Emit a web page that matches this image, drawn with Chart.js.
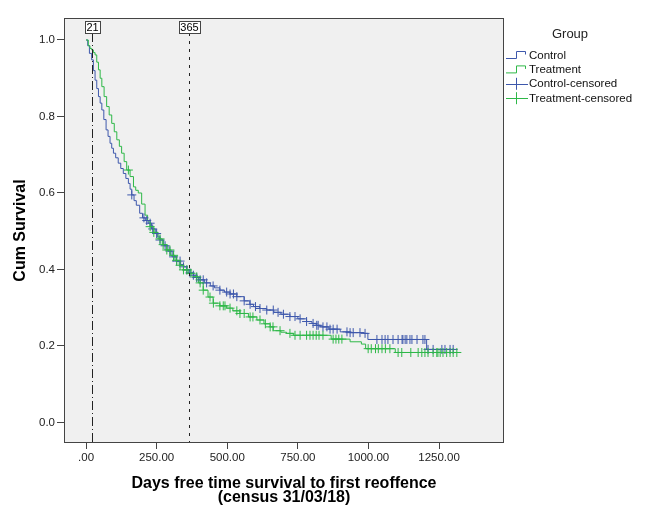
<!DOCTYPE html>
<html>
<head>
<meta charset="utf-8">
<script src="https://cdn.jsdelivr.net/npm/chart.js@4.4.1/dist/chart.umd.min.js"></script>
<style>
  html, body { margin: 0; padding: 0; background: #fff; }
  #wrap { width: 647px; height: 506px; }
</style>
</head>
<body>
<div id="wrap"><canvas id="km" width="647" height="506"></canvas></div>
<script>
// Kaplan-Meier estimates (days, cumulative survival)
let ctrlDays = [0, 6, 12, 20, 26, 32, 38, 44, 50, 56, 63, 71, 78, 85, 91, 97, 105, 114, 123, 132, 141, 150, 156, 162, 170, 178, 190, 200, 210, 220, 232, 245, 254, 262, 275, 290, 305, 320, 335, 345, 357, 368, 380, 392, 404, 420, 440, 455, 474, 490, 510, 534, 560, 580, 593, 615, 640, 665, 690, 722, 750, 781, 800, 815, 829, 860, 900, 935, 983, 998, 1206, 1300];
let ctrlSurv = [1.000, 0.985, 0.965, 0.948, 0.920, 0.895, 0.873, 0.852, 0.835, 0.817, 0.792, 0.765, 0.748, 0.730, 0.717, 0.704, 0.692, 0.678, 0.664, 0.651, 0.638, 0.625, 0.610, 0.595, 0.580, 0.568, 0.547, 0.535, 0.528, 0.521, 0.506, 0.494, 0.485, 0.477, 0.462, 0.448, 0.433, 0.422, 0.413, 0.407, 0.399, 0.391, 0.385, 0.379, 0.373, 0.365, 0.357, 0.352, 0.346, 0.341, 0.336, 0.329, 0.318, 0.309, 0.303, 0.298, 0.294, 0.288, 0.283, 0.277, 0.271, 0.264, 0.259, 0.254, 0.250, 0.244, 0.237, 0.235, 0.233, 0.217, 0.191, 0.191];

let trtDays = [0, 8, 14, 20, 26, 32, 38, 44, 50, 56, 64, 73, 82, 91, 100, 109, 118, 126, 135, 144, 156, 168, 176, 185, 197, 209, 218, 227, 240, 255, 270, 286, 300, 315, 330, 345, 362, 380, 398, 415, 432, 450, 474, 498, 520, 545, 575, 605, 630, 652, 663, 690, 710, 734, 868, 935, 975, 990, 1095, 1313];
let trtSurv = [1.000, 0.985, 0.978, 0.974, 0.967, 0.961, 0.942, 0.922, 0.900, 0.878, 0.852, 0.826, 0.804, 0.782, 0.760, 0.739, 0.722, 0.704, 0.682, 0.660, 0.643, 0.616, 0.607, 0.600, 0.571, 0.542, 0.527, 0.512, 0.497, 0.480, 0.465, 0.451, 0.437, 0.424, 0.411, 0.399, 0.390, 0.381, 0.365, 0.346, 0.328, 0.312, 0.305, 0.299, 0.292, 0.285, 0.276, 0.268, 0.258, 0.250, 0.240, 0.236, 0.233, 0.228, 0.218, 0.211, 0.205, 0.193, 0.183, 0.183];

// censored cases (days)
let ctrlCensDays = [162, 205, 215, 227, 236, 250, 262, 280, 297, 310, 321, 333, 345, 357, 368, 380, 392, 404, 415, 427, 450, 474, 498, 510, 522, 534, 560, 581, 600, 616, 640, 663, 680, 699, 722, 740, 758, 781, 804, 817, 822, 839, 853, 864, 875, 889, 924, 935, 946, 970, 988, 1030, 1048, 1059, 1069, 1087, 1105, 1119, 1122, 1130, 1136, 1147, 1154, 1172, 1193, 1200, 1211, 1229, 1260, 1271, 1289, 1300];
let trtCensDays = [150, 227, 240, 262, 273, 286, 297, 310, 321, 333, 345, 357, 372, 392, 404, 415, 439, 451, 474, 486, 492, 510, 534, 545, 560, 581, 591, 616, 635, 652, 662, 687, 722, 740, 758, 781, 793, 804, 815, 825, 839, 875, 885, 895, 906, 999, 1010, 1025, 1035, 1048, 1060, 1076, 1105, 1118, 1150, 1176, 1189, 1200, 1211, 1229, 1242, 1246, 1254, 1264, 1277, 1289, 1300, 1313];

let groups = ['Control', 'Treatment', 'Control-censored', 'Treatment-censored'];
let refDays = [21, 365];
let xTicks = [0, 250, 500, 750, 1000, 1250];
let yTicks = [0, 0.2, 0.4, 0.6, 0.8, 1.0];

let blue = '#3e58ac';
let green = '#2eb848';
let FONT = '"Liberation Sans", Arial, sans-serif';

// value of the step curve at time t (censor marks sit on the curve)
function survAt(days, surv, t){
    let s = surv[0];
    for(let i = 0; i < days.length; i++){
        if(days[i] <= t) s = surv[i];
    }
    return s;
}

let ctrlLine = ctrlDays.map((d, i) => ({x: d, y: ctrlSurv[i]}));
let trtLine = trtDays.map((d, i) => ({x: d, y: trtSurv[i]}));
let ctrlCens = ctrlCensDays.map(d => ({x: d, y: survAt(ctrlDays, ctrlSurv, d)}));
let trtCens = trtCensDays.map(d => ({x: d, y: survAt(trtDays, trtSurv, d)}));

// plot frame, reference lines, legend and axis titles
let decor = {
    id: 'decor',
    beforeDatasetsDraw(chart){
        let {ctx, chartArea: a} = chart;
        ctx.save();
        ctx.fillStyle = '#f0f0f0';
        ctx.fillRect(a.left, a.top, a.right - a.left, a.bottom - a.top);
        ctx.restore();
    },
    afterDatasetsDraw(chart){
        let {ctx, chartArea: a, scales} = chart;
        ctx.save();

        // reference lines at 21 and 365 days
        ctx.strokeStyle = '#222';
        ctx.lineWidth = 1;
        refDays.forEach((d, i) => {
            let x = Math.round(scales.x.getPixelForValue(d)) + 0.5;
            ctx.setLineDash(i == 0 ? [9, 3, 1, 3] : [3, 5]);
            ctx.beginPath();
            ctx.moveTo(x, a.top + 15);
            ctx.lineTo(x, a.bottom);
            ctx.stroke();
        });
        ctx.setLineDash([]);

        // frame
        ctx.strokeStyle = '#444';
        ctx.strokeRect(a.left + 0.5, a.top + 0.5, a.right - a.left - 1, a.bottom - a.top - 1);

        // boxed labels for reference lines
        ctx.font = '11px ' + FONT;
        ctx.textAlign = 'center';
        ctx.textBaseline = 'middle';
        refDays.forEach(d => {
            let x = Math.round(scales.x.getPixelForValue(d)) + 0.5;
            let txt = String(d);
            let w = ctx.measureText(txt).width + 3;
            ctx.fillStyle = '#fff';
            ctx.fillRect(x - w / 2, a.top + 3, w, 12);
            ctx.strokeStyle = '#444';
            ctx.strokeRect(Math.round(x - w / 2) + 0.5, a.top + 3.5, Math.round(w), 12);
            ctx.fillStyle = '#000';
            ctx.fillText(txt, x, a.top + 10);
        });

        // legend
        ctx.fillStyle = '#222';
        ctx.font = '13px ' + FONT;
        ctx.fillText('Group', 570, 34);
        ctx.font = '11.5px ' + FONT;
        ctx.textAlign = 'left';
        let cols = [blue, green, blue, green];
        groups.forEach((g, i) => {
            let y = 55 + i * 14.4;
            ctx.strokeStyle = cols[i];
            ctx.beginPath();
            if(i < 2){
                ctx.moveTo(506, y + 3.5);
                ctx.lineTo(516.5, y + 3.5);
                ctx.lineTo(516.5, y - 3.5);
                ctx.lineTo(525.5, y - 3.5);
                ctx.lineTo(525.5, y - 0.5);
            }
            else{
                ctx.moveTo(506, Math.round(y) + 0.5);
                ctx.lineTo(528, Math.round(y) + 0.5);
                ctx.moveTo(516.5, y - 6);
                ctx.lineTo(516.5, y + 6);
            }
            ctx.stroke();
            ctx.fillStyle = '#111';
            ctx.fillText(g, 529, y + 0.5);
        });

        // axis titles
        ctx.fillStyle = '#000';
        ctx.font = 'bold 16px ' + FONT;
        ctx.textAlign = 'center';
        ctx.fillText('Days free time survival to first reoffence', (a.left + a.right) / 2, 484);
        ctx.fillText('(census 31/03/18)', (a.left + a.right) / 2, 498);
        ctx.translate(21, (a.top + a.bottom) / 2);
        ctx.rotate(-Math.PI / 2);
        ctx.fillText('Cum Survival', 0, 0);
        ctx.restore();
    }
};

new Chart(document.getElementById('km'), {
    type: 'scatter',
    data: {
        datasets: [
            {label: groups[0], data: ctrlLine, showLine: true, stepped: true, borderColor: blue, borderWidth: 1, pointRadius: 0, order: 4},
            {label: groups[1], data: trtLine, showLine: true, stepped: true, borderColor: green, borderWidth: 1, pointRadius: 0, order: 3},
            {label: groups[2], data: ctrlCens, showLine: false, pointStyle: 'cross', pointRadius: 4.5, borderColor: blue, borderWidth: 1, order: 2},
            {label: groups[3], data: trtCens, showLine: false, pointStyle: 'cross', pointRadius: 4.5, borderColor: green, borderWidth: 1, order: 1}
        ]
    },
    options: {
        responsive: false,
        animation: false,
        layout: {padding: {left: 0, top: 18, right: 143, bottom: 0}},
        plugins: {legend: {display: false}, tooltip: {enabled: false}},
        scales: {
            x: {
                type: 'linear',
                min: -78,
                max: 1480,
                afterFit(scale){ scale.height = 63; },
                afterBuildTicks(scale){ scale.ticks = xTicks.map(v => ({value: v})); },
                grid: {drawOnChartArea: false, drawTicks: true, tickLength: 6, color: '#444'},
                border: {display: false},
                ticks: {
                    color: '#222',
                    font: {family: FONT, size: 11.5},
                    padding: 2,
                    maxRotation: 0,
                    callback: v => v == 0 ? '.00' : v.toFixed(2)
                }
            },
            y: {
                type: 'linear',
                min: -0.0536,
                max: 1.0575,
                afterFit(scale){ scale.width = 64; },
                afterBuildTicks(scale){ scale.ticks = yTicks.map(v => ({value: v})); },
                grid: {drawOnChartArea: false, drawTicks: true, tickLength: 7, color: '#444'},
                border: {display: false},
                ticks: {
                    color: '#222',
                    font: {family: FONT, size: 11.5},
                    padding: 2,
                    callback: v => v.toFixed(1)
                }
            }
        }
    },
    plugins: [decor]
});
</script>
</body>
</html>
